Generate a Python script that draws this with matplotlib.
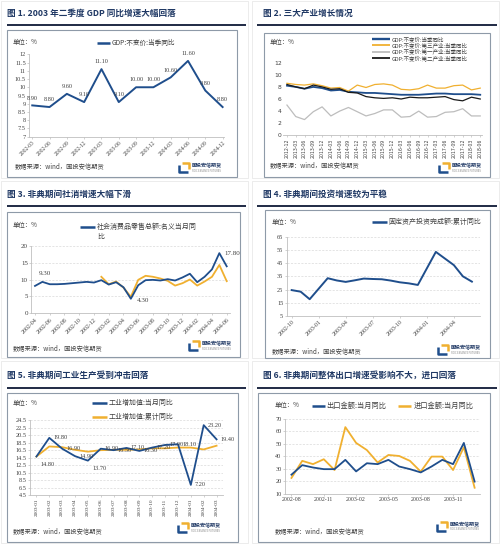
import matplotlib
matplotlib.use('Agg')
import matplotlib.pyplot as plt
import numpy as np
import pandas as pd
from matplotlib.patches import Rectangle
from matplotlib.lines import Line2D

CJK = ['Noto Sans CJK SC', 'DejaVu Sans']
SERIF = ['Liberation Serif', 'DejaVu Serif']
plt.rcParams['font.family'] = CJK
plt.rcParams['axes.unicode_minus'] = False

BLUE = '#1F4E8C'
ORANGE = '#F0B030'
GRAY = '#BDBDBD'
BLACK = '#1A1A1A'
NAVY = '#1F3864'
TXT = '#404040'

# ---- fig 1: GDP quarterly ----
gdp_q = ['2002-03', '2002-06', '2002-09', '2002-12', '2003-03', '2003-06',
         '2003-09', '2003-12', '2004-03', '2004-06', '2004-09', '2004-12']
gdp_yoy = [8.9, 8.8, 9.6, 9.1, 11.1, 9.1, 10.0, 10.0, 10.6, 11.6, 9.8, 8.8]

# ---- fig 2: three industries ----
ind_q = ['2012-12', '2013-03', '2013-06', '2013-09', '2013-12', '2014-03',
         '2014-06', '2014-09', '2014-12', '2015-03', '2015-06', '2015-09',
         '2015-12', '2016-03', '2016-06', '2016-09', '2016-12', '2017-03',
         '2017-06', '2017-09', '2017-12', '2018-03', '2018-06']
gdp_total = [8.2, 8.0, 7.7, 8.0, 7.8, 7.4, 7.5, 7.2, 7.1, 7.0, 7.0, 6.9,
             6.8, 6.7, 6.7, 6.7, 6.8, 6.9, 6.9, 6.8, 6.8, 6.8, 6.7]
gdp_tertiary = [8.6, 8.4, 8.3, 8.5, 8.2, 7.8, 7.9, 7.3, 8.3, 7.9, 8.4, 8.5,
                8.3, 7.6, 7.5, 7.7, 8.3, 7.8, 7.8, 8.2, 8.3, 7.5, 7.8]
gdp_primary = [5.0, 3.1, 2.6, 3.9, 4.7, 3.2, 4.0, 4.6, 3.9, 3.2, 3.6, 4.2,
               4.2, 3.0, 3.1, 4.0, 3.0, 3.1, 3.8, 3.9, 4.4, 3.2, 3.2]
gdp_secondary = [8.4, 8.0, 7.7, 8.3, 8.0, 7.6, 7.7, 7.1, 7.0, 6.4, 6.2, 6.1,
                 6.2, 6.0, 6.3, 6.2, 6.2, 6.3, 6.4, 5.9, 5.7, 6.3, 6.0]
ind_labels = ['GDP:不变价:当季同比', 'GDP:不变价:第三产业:当季同比',
              'GDP:不变价:第一产业:当季同比', 'GDP:不变价:第二产业:当季同比']

# ---- fig 3: retail sales ----
retail_m = ['2002-04', '2002-05', '2002-06', '2002-07', '2002-08', '2002-09',
            '2002-10', '2002-11', '2002-12', '2003-01', '2003-02', '2003-03',
            '2003-04', '2003-05', '2003-06', '2003-07', '2003-08', '2003-09',
            '2003-10', '2003-11', '2003-12', '2004-01', '2004-02', '2004-03',
            '2004-04', '2004-05', '2004-06']
retail_yoy = [8.1, 9.3, 8.6, 8.6, 8.7, 8.9, 9.1, 9.3, 9.1, 9.8, 8.5, 9.2,
              7.7, 4.3, 8.3, 9.8, 9.9, 9.7, 10.1, 9.7, 10.6, 11.7, 9.2, 10.8,
              13.0, 17.8, 13.9]
retail2_m = retail_m[9:]
retail2_yoy = [10.8, 8.6, 9.4, 7.6, 4.9, 9.9, 11.1, 10.8, 10.3, 9.6, 8.2,
               8.9, 10.0, 8.2, 9.4, 10.8, 14.3, 9.5]
retail_ticks = retail_m[::2]

# ---- fig 4: fixed asset investment ----
fai_m = ['2002-10', '2002-11', '2002-12', '2003-02', '2003-03', '2003-04',
         '2003-05', '2003-06', '2003-07', '2003-08', '2003-09', '2003-10',
         '2003-11', '2003-12', '2004-02', '2004-03', '2004-04', '2004-05',
         '2004-06']
fai_yoy = [24.6, 23.4, 17.7, 33.6, 31.9, 30.8, 32.0, 33.3, 33.0, 32.8, 31.8,
           30.5, 29.7, 28.5, 53.5, 48.5, 43.5, 35.0, 31.0]
fai_ticks = ['2002-10', '2003-01', '2003-04', '2003-07', '2003-10',
             '2004-01', '2004-04']

# ---- fig 5: industrial value added ----
iva_m = ['2003-01', '2003-02', '2003-03', '2003-04', '2003-05', '2003-06',
         '2003-07', '2003-08', '2003-09', '2003-10', '2003-11', '2003-12',
         '2004-01', '2004-02', '2004-03']
iva_month = [14.8, 19.8, 16.9, 14.9, 13.7, 16.9, 16.5, 17.1, 16.3, 17.2,
             17.9, 18.1, 7.2, 23.2, 19.4]
iva_cum = [14.8, 17.5, 17.3, 16.6, 16.1, 16.5, 16.6, 16.6, 16.7, 17.0,
           17.0, 17.2, 17.2, 16.7, 17.7]

# ---- fig 6: exports / imports ----
trade_m = ['2002-08', '2002-09', '2002-10', '2002-11', '2002-12', '2003-01',
           '2003-02', '2003-03', '2003-04', '2003-05', '2003-06', '2003-07',
           '2003-08', '2003-09', '2003-10', '2003-11', '2003-12', '2004-01']
export_yoy = [25.4, 33.0, 31.1, 29.8, 29.8, 37.2, 28.0, 34.5, 33.8, 37.2,
              31.9, 29.8, 27.2, 31.9, 37.2, 33.8, 50.7, 19.9]
import_yoy = [22.8, 36.4, 33.8, 37.7, 29.1, 63.3, 50.7, 45.0, 35.1, 41.1,
              40.3, 36.4, 27.8, 39.8, 39.8, 29.1, 47.3, 15.0]
trade_ticks = trade_m[::3]

titles = ['图 1. 2003 年二季度 GDP 同比增速大幅回落',
          '图 2. 三大产业增长情况',
          '图 3. 非典期间社消增速大幅下滑',
          '图 4. 非典期间投资增速较为平稳',
          '图 5. 非典期间工业生产受到冲击回落',
          '图 6. 非典期间整体出口增速受影响不大，进口回落']

W, H = 500, 544
fig = plt.figure(figsize=(W / 100, H / 100), dpi=100)
fig.patch.set_facecolor('white')


def fx(x):
    return x / W


def fy(y):
    return 1 - y / H


def rect(l, t, r, b, color, lw):
    fig.add_artist(Rectangle((fx(l), fy(b)), (r - l) / W, (b - t) / H,
                             transform=fig.transFigure, fill=False,
                             edgecolor=color, linewidth=lw))


def seg(xs, ys, color, lw):
    fig.add_artist(Line2D([fx(x) for x in xs], [fy(y) for y in ys],
                          transform=fig.transFigure, color=color,
                          linewidth=lw, solid_capstyle='butt'))


def txt(x, y, s, size, color=TXT, **kw):
    fig.text(fx(x), fy(y), s, fontsize=size, color=color, va='center', **kw)


def logo(x, y):
    seg([x + 1, x + 1, x + 10], [y + 3, y + 10, y + 10], BLUE, 1.8)
    seg([x + 4, x + 11, x + 11], [y + 1, y + 1, y + 7], ORANGE, 1.8)
    txt(x + 14, y + 4, '国投安信期货', 3.6, NAVY, fontweight='bold')
    txt(x + 14, y + 8.5, 'SDIC ESSENCE FUTURES', 1.8, '#7F7F7F')


def chrome(cell, title, tpos, line, box, unit, src, lg):
    rect(*cell, '#E4E4E4', 0.5)
    txt(tpos[0], tpos[1], title, 6.2, NAVY, fontweight='bold')
    seg([line[0], line[1]], [line[2], line[2]], '#1F2A44', 1.4)
    rect(*box, '#8E9AA8', 0.8)
    txt(unit[0], unit[1], '单位：%', 4.6)
    txt(src[0], src[1], '数据来源：wind，国投安信期货', 4.5)
    logo(*lg)


def legend_item(x, y, label, color, lw=1.5, size=4.8, length=13):
    seg([x, x + length], [y, y], color, lw)
    txt(x + length + 2, y, label, size, TXT)


def make_ax(l, t, r, b):
    ax = fig.add_axes([fx(l), fy(b), (r - l) / W, (b - t) / H])
    ax.patch.set_alpha(0)
    for s in ['top', 'right']:
        ax.spines[s].set_visible(False)
    for s in ['left', 'bottom']:
        ax.spines[s].set_color('#BFBFBF')
        ax.spines[s].set_linewidth(0.6)
    ax.tick_params(length=1.5, width=0.5, color='#BFBFBF', pad=1,
                   labelcolor=TXT)
    return ax


def grid(ax):
    ax.yaxis.grid(True, color='#D9D9D9', lw=0.5, ls=(0, (3, 2)))
    ax.set_axisbelow(True)


def yticks(ax, vals, size=4.5, family=SERIF):
    ax.set_yticks(vals)
    ax.set_yticklabels(['%g' % v for v in vals], fontsize=size, family=family)


def month_pos(months, start):
    d = pd.to_datetime(months)
    s = pd.Timestamp(start)
    return np.array((d.year - s.year) * 12 + (d.month - s.month))


# ================= panel 1 =================
chrome((1, 1, 248, 178), titles[0], (7, 13), (7, 246, 25),
       (7, 30, 237, 177), (13, 42), (15, 166.5), (178, 162))
legend_item(97, 42.5, 'GDP:不变价:当季同比', BLUE, 1.8)
ax = make_ax(29.3, 54.3, 224, 136.7)
x1 = np.arange(len(gdp_q))
ax.plot(x1, gdp_yoy, color=BLUE, lw=1.4)
for xi, v in zip(x1, gdp_yoy):
    ax.annotate('%.2f' % v, (xi, v), xytext=(0, 3.5), textcoords='offset points',
                ha='center', va='bottom', fontsize=4.5, family=SERIF, color=TXT)
ax.set_xlim(-0.17, 11.08)
ax.set_ylim(7, 12)
yticks(ax, np.arange(7, 12.01, 0.5))
ax.set_xticks(x1)
ax.set_xticklabels(gdp_q, rotation=45, ha='right', rotation_mode='anchor',
                   fontsize=4, family=SERIF)

# ================= panel 2 =================
chrome((252, 1, 499, 178), titles[1], (263, 13), (257, 497, 25),
       (264, 33, 490, 177), (270, 42), (270, 165.5), (438, 162))
ind_series = [gdp_total, gdp_tertiary, gdp_primary, gdp_secondary]
ind_colors = [BLUE, ORANGE, GRAY, BLACK]
ind_lw = [1.3, 0.9, 0.9, 0.9]
for i, (lab, c, lw) in enumerate(zip(ind_labels, ind_colors, ind_lw)):
    legend_item(371.7, 39 + 6.4 * i, lab, c, lw + 0.4, 4.0, 18)
ax = make_ax(283, 62.7, 482, 135.3)
ax.spines['left'].set_visible(False)
x2 = np.arange(len(ind_q))
for s, c, lw in zip(ind_series, ind_colors, ind_lw):
    ax.plot(x2, s, color=c, lw=lw)
ax.set_xlim(-0.45, 22.2)
ax.set_ylim(0, 12)
yticks(ax, np.arange(0, 13, 2), 4.3, ['DejaVu Sans'])
ax.tick_params(axis='y', length=0)
ax.set_xticks(x2)
ax.set_xticklabels(ind_q, rotation=90, fontsize=3.3, family=['DejaVu Sans'])

# ================= panel 3 =================
chrome((1, 181, 248, 358), titles[2], (7, 194), (7, 246, 206),
       (7, 211.5, 240, 357), (13, 225), (13, 348), (188, 340))
legend_item(80, 226.7, '社会消费品零售总额:名义当月同', BLUE, 1.8, 5, 15)
txt(97, 236.7, '比', 5)
ax = make_ax(31.3, 245.7, 230.4, 313.3)
grid(ax)
x3 = month_pos(retail_m, '2002-04')
x3b = month_pos(retail2_m, '2002-04')
ax.plot(x3b, retail2_yoy, color=ORANGE, lw=1.3)
ax.plot(x3, retail_yoy, color=BLUE, lw=1.3)
i_peak = int(np.argmax(retail_yoy))
i_low = int(np.argmin(retail_yoy))
ax.annotate('%.2f' % retail_yoy[1], (x3[1], retail_yoy[1]), xytext=(2, 4),
            textcoords='offset points', ha='center', va='bottom',
            fontsize=5, family=SERIF, color=TXT)
ax.annotate('%.2f' % retail_yoy[i_low], (x3[i_low], retail_yoy[i_low]),
            xytext=(4, -1), textcoords='offset points', ha='left', va='center',
            fontsize=5, family=SERIF, color=TXT)
ax.annotate('%.2f' % retail_yoy[i_peak], (x3[i_peak], retail_yoy[i_peak]),
            xytext=(4, 0), textcoords='offset points', ha='left', va='center',
            fontsize=5, family=SERIF, color=TXT, annotation_clip=False)
ax.set_xlim(-0.5, 26.5)
ax.set_ylim(0, 20)
yticks(ax, np.arange(0, 21, 5), 5)
ax.set_xticks(month_pos(retail_ticks, '2002-04'))
ax.set_xticklabels(retail_ticks, rotation=45, ha='right',
                   rotation_mode='anchor', fontsize=4.3, family=SERIF)

# ================= panel 4 =================
chrome((252, 181, 499, 358), titles[3], (263, 194), (257, 497, 206),
       (265, 210, 490, 358), (272, 222), (272, 351.5), (437, 344))
legend_item(371.7, 221.7, '固定资产投资完成额:累计同比', BLUE, 1.8, 5, 15)
ax = make_ax(286.7, 236.7, 480, 316)
grid(ax)
x4 = month_pos(fai_m, '2002-10')
ax.plot(x4, fai_yoy, color=BLUE, lw=1.4)
ax.set_xlim(-0.55, 20.9)
ax.set_ylim(5, 65)
yticks(ax, np.arange(5, 66, 10), 4.5)
ax.set_xticks(month_pos(fai_ticks, '2002-10'))
ax.set_xticklabels(fai_ticks, rotation=45, ha='right',
                   rotation_mode='anchor', fontsize=4.3, family=SERIF)

# ================= panel 5 =================
chrome((1, 361, 248, 543), titles[4], (7, 375), (7, 246, 388),
       (7, 393, 238, 541.5), (13, 403.5), (13, 531.5), (177, 522))
legend_item(91.7, 403.3, '工业增加值:当月同比', BLUE, 1.8, 5, 15)
legend_item(91.7, 417.3, '工业增加值:累计同比', ORANGE, 1.8, 5, 15)
ax = make_ax(30, 420.3, 223, 495)
grid(ax)
x5 = np.arange(len(iva_m))
ax.plot(x5, iva_cum, color=ORANGE, lw=1.3)
ax.plot(x5, iva_month, color=BLUE, lw=1.3)
for i, (xi, v) in enumerate(zip(x5, iva_month)):
    dy = -6 if i in (0, 4) else 0
    ax.annotate('%.2f' % v, (xi, v), xytext=(3, dy), textcoords='offset points',
                ha='left', va='center', fontsize=4.5, family=SERIF, color=TXT,
                annotation_clip=False)
ax.set_xlim(-0.5, 14.5)
ax.set_ylim(4.5, 24.5)
yticks(ax, np.arange(4.5, 24.6, 2), 4.5)
ax.set_xticks(x5)
ax.set_xticklabels(iva_m, rotation=90, fontsize=3.8, family=SERIF)

# ================= panel 6 =================
chrome((252, 361, 499, 543), titles[5], (263, 375), (257, 497, 388),
       (258, 393, 490, 541.5), (275, 405.5), (275, 531.5), (436, 521))
legend_item(311.7, 405.7, '出口金额:当月同比', BLUE, 1.8, 5.2, 13)
legend_item(398.3, 405.7, '进口金额:当月同比', ORANGE, 1.8, 5.2, 13)
ax = make_ax(285, 418.7, 480, 494)
grid(ax)
x6 = np.arange(len(trade_m))
ax.plot(x6, import_yoy, color=ORANGE, lw=1.3)
ax.plot(x6, export_yoy, color=BLUE, lw=1.3)
ax.set_xlim(-0.6, 17.5)
ax.set_ylim(10, 70)
yticks(ax, np.arange(10, 71, 10), 4.5)
ax.set_xticks(x6[::3])
ax.set_xticklabels(trade_ticks, fontsize=4.2, family=SERIF)

fig.savefig('out.png', dpi=100)
